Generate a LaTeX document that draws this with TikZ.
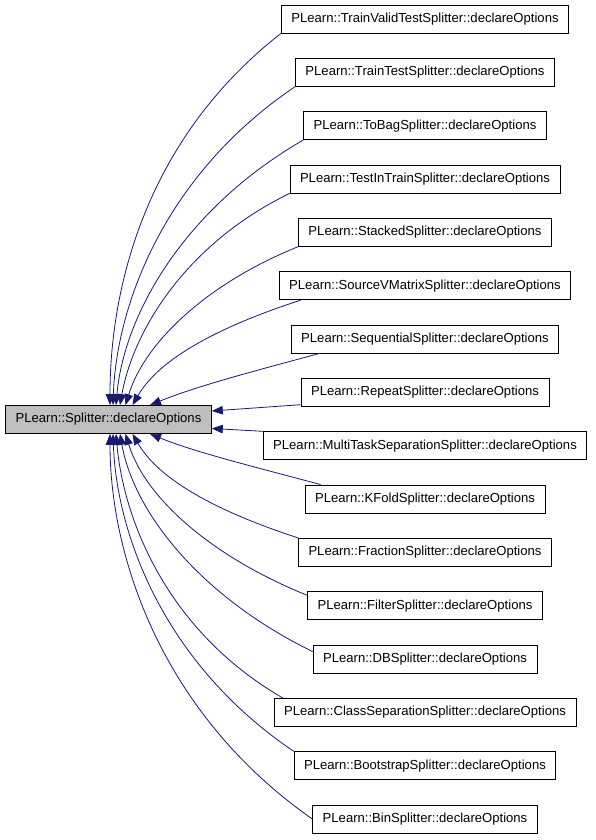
\documentclass[tikz,border=0pt]{standalone}
\usepackage{fontspec}
\setmainfont{Liberation Sans}
\usetikzlibrary{arrows.meta}
\definecolor{edgeblue}{HTML}{191970}
\definecolor{basegray}{HTML}{BFBFBF}
\begin{document}
\begin{tikzpicture}[x=1pt, y=1pt,
            box/.style={draw, line width=0.8pt, minimum height=28pt, inner xsep=10pt,
                    font=\fontsize{13.1}{15}\selectfont},
            arrow/.style={-{Triangle[length=11pt,width=8.5pt]}, draw=edgeblue, line width=0.8pt,
                    out looseness=1.1, in looseness=0.7}
        ]
        \useasboundingbox (0,0) rectangle (595,840);
        \node[box, fill=basegray] (split) at (108.5,420.5) {PLearn::Splitter::declareOptions};

        \node[box] (tvt) at (425,821) {PLearn::TrainValidTestSplitter::declareOptions};
        \node[box] (tt) at (425,767.7) {PLearn::TrainTestSplitter::declareOptions};
        \node[box] (tobag) at (425,714.3) {PLearn::ToBagSplitter::declareOptions};
        \node[box] (tit) at (425,661) {PLearn::TestInTrainSplitter::declareOptions};
        \node[box] (stacked) at (425,607.7) {PLearn::StackedSplitter::declareOptions};
        \node[box] (svm) at (425,554.3) {PLearn::SourceVMatrixSplitter::declareOptions};
        \node[box] (seq) at (425,501) {PLearn::SequentialSplitter::declareOptions};
        \node[box] (repeat) at (425,447.7) {PLearn::RepeatSplitter::declareOptions};
        \node[box] (mts) at (425,394.3) {PLearn::MultiTaskSeparationSplitter::declareOptions};
        \node[box] (kfold) at (425,341) {PLearn::KFoldSplitter::declareOptions};
        \node[box] (frac) at (425,287.7) {PLearn::FractionSplitter::declareOptions};
        \node[box] (filter) at (425,234.3) {PLearn::FilterSplitter::declareOptions};
        \node[box] (db) at (425,181) {PLearn::DBSplitter::declareOptions};
        \node[box] (csep) at (425,127.7) {PLearn::ClassSeparationSplitter::declareOptions};
        \node[box] (boot) at (425,74.3) {PLearn::BootstrapSplitter::declareOptions};
        \node[box] (bin) at (425,21) {PLearn::BinSplitter::declareOptions};

        % upper half, into the top side
        \draw[arrow] (tvt.south west) to[out=218, in=90] ([xshift=1.5pt]split.north);
        \draw[arrow] (tt.south west) to[out=214, in=88] ([xshift=4.5pt]split.north);
        \draw[arrow] (tobag.south west) to[out=210, in=85] ([xshift=7.5pt]split.north);
        \draw[arrow] (tit.south west) to[out=206, in=80] ([xshift=11.5pt]split.north);
        \draw[arrow] (stacked.south west) to[out=202, in=73] ([xshift=17pt]split.north);
        \draw[arrow] ([xshift=22pt]svm.south west) to[out=198, in=60] ([xshift=24pt]split.north);
        \draw[arrow] ([xshift=29pt]seq.south west) to[out=195, in=22] ([xshift=41.5pt]split.north);
        \draw[arrow] ([yshift=2pt]repeat.south west) -- ([yshift=8.5pt]split.east);
        % lower half, into the bottom side
        \draw[arrow] (mts.north west) -- ([yshift=-9pt]split.east);
        \draw[arrow] ([xshift=16pt]kfold.north west) to[out=165, in=-22] ([xshift=41.5pt]split.south);
        \draw[arrow] (frac.north west) to[out=162, in=-60] ([xshift=24pt]split.south);
        \draw[arrow] ([yshift=-4pt]filter.north west) to[out=158, in=-73] ([xshift=17pt]split.south);
        \draw[arrow] ([yshift=-7pt]db.north west) to[out=154, in=-80] ([xshift=11.5pt]split.south);
        \draw[arrow] ([xshift=9pt]csep.north west) to[out=150, in=-85] ([xshift=7.5pt]split.south);
        \draw[arrow] (boot.north west) to[out=146, in=-88] ([xshift=4.5pt]split.south);
        \draw[arrow] (bin.west) to[out=145, in=-90] ([xshift=1.5pt]split.south);
    \end{tikzpicture}
\end{document}
